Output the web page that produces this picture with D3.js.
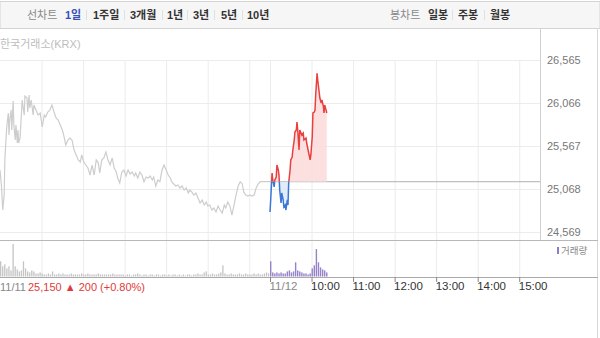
<!DOCTYPE html>
<html>
<head>
<meta charset="utf-8">
<script src="https://cdn.jsdelivr.net/npm/d3@7"></script>
<style>
  body { margin: 0; background: #fff; }
  #div_chart { width: 600px; height: 338px; }
</style>
</head>
<body>
<div id="div_chart"></div>
<script>
// ---- data ----
const yTicks = [24569, 25068, 25567, 26066, 26565];
const prevClose = 25150;
const xTickTimes = ["09:00", "10:00", "11:00", "12:00", "13:00", "14:00", "15:00"];
const xTickLabels = ["11/12", "10:00", "11:00", "12:00", "13:00", "14:00", "15:00"];

// 11/11 intraday (gray)
const day1Times = ["09:00","09:02","09:04","09:06","09:07","09:09","09:10","09:12","09:13","09:14","09:16","09:17","09:19","09:20","09:22","09:23","09:25","09:26","09:27","09:29",
  "09:32","09:35","09:36","09:39","09:40","09:42","09:43","09:45","09:48","09:49","09:52","09:55","09:58","10:01","10:04","10:06","10:09","10:12","10:15","10:18",
  "10:21","10:24","10:27","10:30","10:32","10:35","10:38","10:41","10:44","10:47","10:50","10:53","10:56","10:58","11:01","11:04","11:07","11:10","11:13","11:16",
  "11:19","11:22","11:24","11:27","11:30","11:33","11:36","11:39","11:42","11:45","11:48","11:50","11:53","11:56","11:59","12:02","12:05","12:08","12:11","12:14",
  "12:16","12:19","12:22","12:25","12:28","12:31","12:34","12:37","12:40","12:42","12:45","12:48","12:51","12:54","12:57","13:00","13:03","13:06","13:08","13:11",
  "13:14","13:17","13:20","13:23","13:26","13:29","13:32","13:34","13:37","13:40","13:43","13:46","13:49","13:52","13:55","13:58","14:00","14:03","14:06","14:09",
  "14:12","14:15","14:18","14:21","14:24","14:26","14:29","14:32","14:35","14:38","14:41","14:44","14:47","14:50","14:52","14:55","14:58","15:01","15:04","15:07",
  "15:10","15:13","15:16","15:18","15:30"];
const day1Prices = [25286,25112,24821,24996,25403,25692,25809,25948,25692,25867,25983,25751,26088,25809,25635,25809,25600,25751,25600,25658,
  26100,25925,26146,26123,25960,26158,26007,26100,25925,26042,25983,25925,25949,25786,25925,25902,25960,25983,26042,25960,
  25891,25867,25809,25751,25692,25577,25635,25658,25635,25519,25461,25403,25379,25461,25379,25344,25310,25228,25344,25228,
  25403,25368,25251,25403,25426,25496,25403,25344,25426,25310,25263,25193,25135,25263,25286,25217,25286,25240,25263,25217,
  25251,25193,25263,25228,25150,25205,25193,25217,25170,25205,25100,25170,25150,25286,25344,25286,25228,25193,25150,25124,
  25100,25112,25077,25100,25054,25077,25019,25054,25031,24996,25019,24961,24903,24938,24879,24914,24868,24879,24821,24845,
  24798,24868,24821,24786,24879,24845,24914,24868,24763,24879,24996,25100,25150,25124,25031,24996,24984,24996,24984,24996,
  25077,25124,25150,25150,25150];

// 11/12 intraday (red / blue)
const day2Times = ["09:00","09:01","09:03","09:04","09:06","09:07","09:09","09:10","09:12","09:13","09:14","09:16","09:17","09:19","09:20","09:22","09:23","09:25","09:26","09:27",
  "09:29","09:30","09:32","09:33","09:35","09:36","09:38","09:39","09:40","09:42","09:43","09:46","09:48","09:49","09:52","09:53","09:55","09:58","09:59","10:01",
  "10:02","10:04","10:05","10:06","10:08","10:09","10:11","10:12","10:14","10:15","10:17","10:18","10:19","10:21","10:22"];
const day2Prices = [24798,24938,25251,25170,25089,25170,25205,25344,25286,25228,25054,24903,25019,24938,24856,24879,24821,24938,24879,25135,
  25286,25403,25438,25519,25635,25728,25751,25844,25751,25520,25751,25692,25716,25635,25658,25600,25519,25403,25461,25670,
  25949,25960,25983,26158,26411,26330,26193,26123,26065,26100,26030,25949,26042,25983,25949];

// volume, 3-minute buckets from 09:00
const day1Volume = [1500,1000,1200,800,1000,600,3200,1000,700,500,
  600,1500,800,500,400,600,500,300,300,400,
  300,200,200,300,200,500,200,200,300,200,
  300,200,200,200,300,200,200,200,200,300,
  200,200,300,200,200,200,200,300,200,200,
  200,200,200,200,300,200,200,200,200,200,
  100,200,200,100,200,200,300,200,100,200,
  200,100,200,200,100,200,200,100,200,200,
  100,200,100,200,200,100,200,100,200,100,
  200,200,100,200,200,300,200,200,400,500,
  200,200,300,200,200,300,400,1100,300,200,
  200,300,200,200,200,300,200,200,300,200,
  200,200,300,200,300,200,200,300,400,300];
const day2Volume = [1500,400,300,400,300,400,300,300,500,600,
  400,500,1400,600,500,400,300,300,200,300,
  800,1100,2700,1400,900,700,600,400];

// ---- layout ----
var svgWidth = 600, svgHeight = 338;
var plot = {left: 0, right: 540, top: 60, bottom: 240};
var vol = {top: 243, bottom: 276.5};
var axisY = 277;
var font = "'Liberation Sans', 'Noto Sans CJK KR', sans-serif";

function toMin(str, day) {
    var p = str.split(":");
    return (+p[0] * 60 + +p[1] - 540) + day * 390;
}

var day1 = day1Times.map((t, i) => ({t: toMin(t, 0), v: day1Prices[i]}));
var day2 = day2Times.map((t, i) => ({t: toMin(t, 1), v: day2Prices[i]}));

var x = d3.scaleLinear().domain([0, 780]).range([plot.left, plot.right]);
var y = d3.scaleLinear().domain([24569, 26565]).range([231.7, 60]);
var yv = d3.scaleLinear().domain([0, 3300]).range([vol.bottom, vol.top]);

var svg = d3.select("#div_chart")
    .append("svg")
        .attr("width", svgWidth)
        .attr("height", svgHeight)
        .style("font-family", font);

// top menu bar
svg.append("rect").attr("x", 0).attr("y", 1.5).attr("width", 600).attr("height", 27)
    .attr("fill", "#f6f6f6").attr("stroke", "#d4d4d4");

var menuItems = [["선차트", 27, "#888", 400], ["1일", 65, "#3550b8", 700], ["1주일", 93, "#333", 700],
    ["3개월", 130, "#333", 700], ["1년", 167, "#333", 700], ["3년", 193, "#333", 700],
    ["5년", 221, "#333", 700], ["10년", 247, "#333", 700],
    ["봉차트", 390, "#888", 400], ["일봉", 428, "#333", 700], ["주봉", 458, "#333", 700], ["월봉", 490, "#333", 700]];
svg.append("g").selectAll("text").data(menuItems).join("text")
    .attr("x", d => d[1]).attr("y", 19)
    .attr("fill", d => d[2]).attr("font-weight", d => d[3])
    .style("font-size", "11px").text(d => d[0]);
var seps = [86, 124, 162, 187, 214, 242, 452, 484];
svg.append("g").selectAll("line").data(seps).join("line")
    .attr("x1", d => d + 0.5).attr("x2", d => d + 0.5).attr("y1", 10).attr("y2", 20)
    .attr("stroke", "#e0e0e0");

// source label
svg.append("text").attr("x", 0).attr("y", 48).attr("fill", "#bdbdbd")
    .style("font-size", "11px").text("한국거래소(KRX)");

// gridlines
var hourLines = [60, 120, 180, 240, 300, 360, 390, 450, 510, 570, 630, 690, 750];
svg.append("g").selectAll("line").data(hourLines).join("line")
    .attr("x1", d => x(d) + 0.5).attr("x2", d => x(d) + 0.5)
    .attr("y1", plot.top).attr("y2", axisY)
    .attr("stroke", "#ececec");
svg.append("g").selectAll("line").data(yTicks).join("line")
    .attr("x1", plot.left).attr("x2", plot.right)
    .attr("y1", d => Math.round(y(d)) + 0.5).attr("y2", d => Math.round(y(d)) + 0.5)
    .attr("stroke", "#ececec");

// frame lines
svg.append("line").attr("x1", 540.5).attr("x2", 540.5).attr("y1", 28).attr("y2", 240)
    .attr("stroke", "#cfcfcf");
svg.append("line").attr("x1", 597.5).attr("x2", 597.5).attr("y1", 28).attr("y2", 338)
    .attr("stroke", "#d8d8d8");
svg.append("line").attr("x1", 0).attr("x2", 598).attr("y1", 240.5).attr("y2", 240.5)
    .attr("stroke", "#b8b8b8");

// previous close baseline
var baseY = y(prevClose);
svg.append("line").attr("x1", x(390)).attr("x2", plot.right)
    .attr("y1", baseY).attr("y2", baseY)
    .attr("stroke", "#b0b0b0");

// 11/11 gray line
var line = d3.line().x(d => x(d.t)).y(d => y(d.v));
svg.append("path").datum(day1)
    .attr("d", line).attr("fill", "none")
    .attr("stroke", "#cdcdcd").attr("stroke-width", 1.2);

// 11/12 line split at previous close
var defs = svg.append("defs");
defs.append("clipPath").attr("id", "above")
    .append("rect").attr("x", 0).attr("y", 0).attr("width", 600).attr("height", baseY);
defs.append("clipPath").attr("id", "below")
    .append("rect").attr("x", 0).attr("y", baseY).attr("width", 600).attr("height", 338 - baseY);

var area = d3.area().x(d => x(d.t)).y0(baseY).y1(d => y(d.v));
[["above", "#fbdada", "#ea3f3f"], ["below", "#dce8f8", "#3a78d6"]].forEach(c => {
    var g = svg.append("g").attr("clip-path", "url(#" + c[0] + ")");
    g.append("path").datum(day2).attr("d", area).attr("fill", c[1]).attr("fill-opacity", 0.85);
    g.append("path").datum(day2).attr("d", line).attr("fill", "none")
        .attr("stroke", c[2]).attr("stroke-width", 1.5);
});

// volume bars
var v1 = day1Volume.map((v, i) => ({t: i * 3, v: v}));
var v2 = day2Volume.map((v, i) => ({t: 390 + i * 3, v: v}));
svg.append("g").selectAll("rect").data(v1).join("rect")
    .attr("x", d => x(d.t)).attr("width", 1.3)
    .attr("y", d => yv(d.v)).attr("height", d => vol.bottom - yv(d.v))
    .attr("fill", "#c4c4c4");
svg.append("g").selectAll("rect").data(v2).join("rect")
    .attr("x", d => x(d.t)).attr("width", 1.4)
    .attr("y", d => yv(d.v)).attr("height", d => vol.bottom - yv(d.v))
    .attr("fill", "#9582c9");

// volume legend
svg.append("rect").attr("x", 557).attr("y", 247).attr("width", 2).attr("height", 7).attr("fill", "#8f7cc6");
svg.append("text").attr("x", 561).attr("y", 254).attr("fill", "#888")
    .style("font-size", "9.5px").text("거래량");

// y axis
var yAxis = svg.append("g").attr("transform", "translate(540,0)")
    .call(d3.axisRight(y).tickValues(yTicks).tickSize(0).tickPadding(7).tickFormat(d3.format(",")));
yAxis.select(".domain").remove();
yAxis.selectAll("text").attr("fill", "#777").style("font-size", "11px").style("font-family", font);

// x axis
var xAxis = svg.append("g").attr("transform", "translate(0," + axisY + ")")
    .call(d3.axisBottom(x).tickValues(xTickTimes.map(t => toMin(t, 1)))
        .tickFormat((d, i) => xTickLabels[i]).tickSize(5).tickSizeOuter(0));
xAxis.select(".domain").attr("d", "M0,0.5H598").attr("stroke", "#aaa");
xAxis.selectAll(".tick line").attr("stroke", "#888");
xAxis.selectAll("text").attr("text-anchor", "start").attr("x", -1).attr("y", 5)
    .attr("fill", (d, i) => i === 0 ? "#888" : "#333")
    .style("font-size", "11.5px").style("font-family", font);

// previous-day label and change
svg.append("text").attr("x", 0).attr("y", 291).attr("fill", "#888")
    .style("font-size", "11px").text("11/11");
svg.append("text").attr("x", 28).attr("y", 291).attr("fill", "#e23a3a")
    .style("font-size", "11px").text("25,150 ▲ 200 (+0.80%)");
</script>
</body>
</html>
